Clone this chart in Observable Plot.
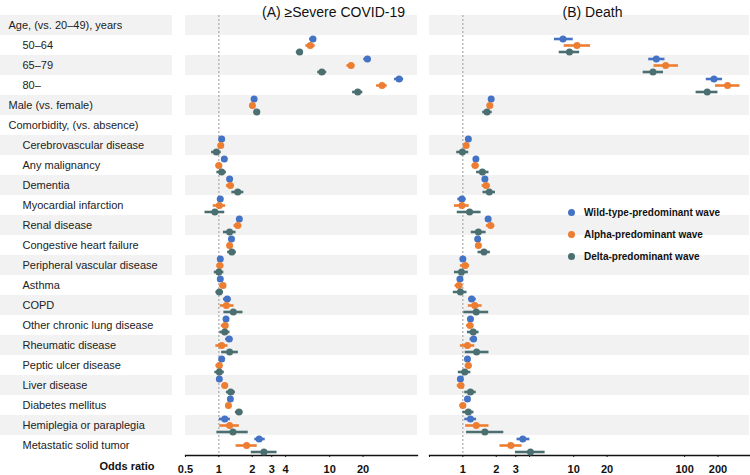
<!DOCTYPE html>
<html>
<head>
<meta charset="utf-8">
<script src="https://cdn.jsdelivr.net/npm/d3@7"></script>
<script src="https://cdn.jsdelivr.net/npm/@observablehq/plot@0.6"></script>
<style>
  body { margin: 0; background: #fff; font-family: "Liberation Sans", Arial, sans-serif; }
  #wrap { position: relative; width: 750px; height: 475px; overflow: hidden; }
  #wrap > div.p { position: absolute; top: 0; }
  #legend { position: absolute; left: 568px; top: 201px; font-size: 10px; font-weight: bold; color: #111; }
  #legend .item { height: 22px; display: flex; align-items: center; }
  #legend .sw { width: 7px; height: 7px; border-radius: 50%; margin-right: 9px; }
</style>
</head>
<body>
<div id="wrap">
  <div class="p" id="labels" style="left:0px"></div>
  <div class="p" id="left" style="left:175px"></div>
  <div class="p" id="right" style="left:419px"></div>
  <div id="legend"></div>
</div>
<script>
// ---------- data ----------
const rowLabels = [
  "Age, (vs. 20–49), years", "50–64", "65–79", "80–", "Male (vs. female)",
  "Comorbidity, (vs. absence)", "Cerebrovascular disease", "Any malignancy", "Dementia",
  "Myocardial infarction", "Renal disease", "Congestive heart failure",
  "Peripheral vascular disease", "Asthma", "COPD", "Other chronic lung disease",
  "Rheumatic disease", "Peptic ulcer disease", "Liver disease", "Diabetes mellitus",
  "Hemiplegia or paraplegia", "Metastatic solid tumor"
];
const topLevelLabels = ["Age, (vs. 20–49), years", "Male (vs. female)", "Comorbidity, (vs. absence)"];
const emptyRows = ["Age, (vs. 20–49), years", "Comorbidity, (vs. absence)"];
const seriesNames = ["Wild-type-predominant wave", "Alpha-predominant wave", "Delta-predominant wave"];
const seriesColors = ["#4472C4", "#ED7D31", "#4B6F70"];
const panelTitles = ["(A) ≥Severe COVID-19", "(B) Death"];
const leftTicks = [0.5, 1, 2, 3, 4, 10, 20];
const rightTicks = [0.5, 1, 2, 3, 4, 10, 20, 100, 200];
const refLine = [1];

// [odds ratio, lower CI, upper CI] for rows 50–64 … Metastatic solid tumor
const severeWild = [
  [7.07, 6.6, 7.6], [21.9, 20.3, 23.7], [42.3, 38.5, 46.5], [2.08, 2.04, 2.12],
  [1.06, 1.03, 1.09], [1.12, 1.09, 1.15], [1.25, 1.21, 1.29], [1.03, 0.97, 1.10],
  [1.53, 1.49, 1.57], [1.30, 1.26, 1.34], [1.03, 0.99, 1.07], [1.03, 0.99, 1.07],
  [1.19, 1.10, 1.29], [1.16, 1.12, 1.20], [1.24, 1.15, 1.34], [1.06, 1.02, 1.10],
  [1.01, 0.98, 1.04], [1.27, 1.24, 1.30], [1.13, 1.01, 1.27], [2.31, 2.11, 2.62]
];
const severeAlpha = [
  [6.68, 6.1, 7.4], [15.6, 14.3, 16.9], [29.7, 26.5, 33.0], [2.01, 1.97, 2.05],
  [1.04, 0.99, 1.11], [1.00, 0.94, 1.07], [1.27, 1.17, 1.38], [1.01, 0.89, 1.15],
  [1.48, 1.37, 1.61], [1.25, 1.21, 1.29], [1.02, 0.96, 1.11], [1.09, 1.01, 1.17],
  [1.17, 1.03, 1.37], [1.14, 1.05, 1.23], [1.06, 0.94, 1.21], [1.01, 0.94, 1.07],
  [1.13, 1.07, 1.20], [1.22, 1.16, 1.29], [1.25, 1.02, 1.53], [1.78, 1.43, 2.22]
];
const severeDelta = [
  [5.36, 5.0, 5.7], [8.5, 7.8, 9.4], [17.9, 16.1, 19.9], [2.20, 2.07, 2.35],
  [0.95, 0.86, 1.05], [1.06, 0.96, 1.17], [1.48, 1.31, 1.68], [0.92, 0.75, 1.13],
  [1.25, 1.10, 1.43], [1.31, 1.20, 1.44], [1.00, 0.91, 1.11], [1.01, 0.94, 1.10],
  [1.35, 1.11, 1.65], [1.13, 1.02, 1.26], [1.25, 1.06, 1.50], [1.01, 0.92, 1.12],
  [1.28, 1.17, 1.41], [1.52, 1.41, 1.65], [1.34, 0.96, 1.84], [2.55, 1.96, 3.35]
];
const deathWild = [
  [8.0, 6.7, 9.9], [55.6, 47.5, 66.5], [184, 157, 220], [1.80, 1.76, 1.84],
  [1.12, 1.08, 1.16], [1.31, 1.27, 1.35], [1.58, 1.53, 1.63], [0.98, 0.90, 1.07],
  [1.69, 1.64, 1.74], [1.36, 1.32, 1.40], [1.00, 0.96, 1.04], [0.94, 0.90, 0.98],
  [1.20, 1.13, 1.32], [1.17, 1.13, 1.21], [1.25, 1.16, 1.34], [1.10, 1.06, 1.14],
  [0.95, 0.91, 0.99], [1.10, 1.06, 1.14], [1.17, 1.04, 1.33], [3.47, 3.08, 4.02]
];
const deathAlpha = [
  [10.7, 8.2, 14.2], [67.5, 53, 88], [244, 190, 316], [1.75, 1.70, 1.80],
  [1.07, 1.02, 1.14], [1.29, 1.21, 1.40], [1.62, 1.49, 1.77], [0.98, 0.84, 1.14],
  [1.78, 1.63, 1.94], [1.38, 1.31, 1.45], [1.05, 0.95, 1.15], [0.92, 0.85, 1.00],
  [1.28, 1.12, 1.49], [1.16, 1.08, 1.26], [1.10, 0.95, 1.28], [1.12, 1.05, 1.21],
  [0.96, 0.89, 1.04], [1.00, 0.94, 1.07], [1.32, 1.06, 1.72], [2.71, 2.16, 3.42]
];
const deathDelta = [
  [9.15, 7.4, 11.3], [51.9, 42.3, 64.5], [160, 127, 200], [1.65, 1.51, 1.84],
  [0.99, 0.88, 1.13], [1.50, 1.33, 1.72], [1.73, 1.52, 1.97], [1.15, 0.89, 1.46],
  [1.38, 1.19, 1.62], [1.55, 1.37, 1.77], [0.97, 0.84, 1.12], [0.95, 0.82, 1.09],
  [1.32, 1.02, 1.71], [1.24, 1.10, 1.40], [1.33, 1.05, 1.72], [1.04, 0.91, 1.18],
  [1.17, 1.04, 1.32], [1.12, 1.00, 1.26], [1.58, 1.08, 2.34], [4.07, 2.98, 5.52]
];

// ---------- build ----------
const dataRows = rowLabels.filter(r => !emptyRows.includes(r));
const shadedRows = rowLabels.filter((r, i) => i % 2 === 0);
const seriesOffsets = [-6.5, 0, 6.5];
const tidy = arr => arr.map((v, j) => ({row: dataRows[j], or: v[0], lo: v[1], hi: v[2]}));

const H = 475, MT = 15, MB = 20;
const FONT = "Liberation Sans, Arial, sans-serif";
const yScale = {type: "band", domain: rowLabels, padding: 0, axis: null};
const bandFill = "#F2F2F2";

// Label column
const labelsPlot = Plot.plot({
  width: 185, height: H, marginTop: MT, marginBottom: MB, marginLeft: 0, marginRight: 13,
  style: {fontFamily: FONT, fontSize: "11px", background: "transparent"},
  y: yScale,
  marks: [
    Plot.cell(shadedRows, {y: d => d, fill: bandFill}),
    Plot.text(rowLabels.filter(r => topLevelLabels.includes(r)), {y: d => d, text: d => d, frameAnchor: "left", dx: 8, dy: -0.5, textAnchor: "start", fill: "#222", fontSize: 11}),
    Plot.text(rowLabels.filter(r => !topLevelLabels.includes(r)), {y: d => d, text: d => d, frameAnchor: "left", dx: 22, dy: -0.5, textAnchor: "start", fill: "#222", fontSize: 11}),
    Plot.text(["Odds ratio"], {frameAnchor: "bottom-right", dx: -18, dy: 14, textAnchor: "end", fontWeight: "bold", fontSize: 11, fill: "#111"})
  ]
});
document.getElementById("labels").appendChild(labelsPlot);

function panel({width, domain, ticks, title, titleDx, series}) {
  const marks = [
    Plot.cell(shadedRows, {y: d => d, fill: bandFill}),
    Plot.ruleX(refLine, {x: d => d, stroke: "#9a9a9a", strokeWidth: 1, strokeDasharray: "2,2"}),
    Plot.frame({anchor: "bottom", stroke: "#111", strokeWidth: 1.3}),
    Plot.axisX({ticks, tickFormat: d => String(d), tickSize: 2, tickPadding: 8, fontWeight: "bold", fontSize: 11, fill: "#111", stroke: "#111"}),
    Plot.text([title], {frameAnchor: "top", dy: -8, dx: titleDx, fontSize: 14, fill: "#111"})
  ];
  series.forEach((arr, i) => {
    const d = tidy(arr);
    marks.push(Plot.ruleY(d, {y: "row", x1: "lo", x2: "hi", dy: seriesOffsets[i], stroke: seriesColors[i], strokeWidth: 2.6}));
    marks.push(Plot.dot(d, {x: "or", y: "row", dy: seriesOffsets[i], r: 3.5, fill: seriesColors[i], stroke: "none"}));
  });
  return Plot.plot({
    width, height: H, marginTop: MT, marginBottom: MB, marginLeft: 10, marginRight: width === 254 ? 12 : 1,
    style: {fontFamily: FONT, fontSize: "11px", background: "transparent", overflow: "visible"},
    x: {type: "log", domain, axis: null},
    y: yScale,
    marks
  });
}

document.getElementById("left").appendChild(panel({
  width: 254, domain: [0.5, 62], ticks: leftTicks, title: panelTitles[0], titleDx: 32,
  series: [severeWild, severeAlpha, severeDelta]
}));
document.getElementById("right").appendChild(panel({
  width: 331, domain: [0.5, 385], ticks: rightTicks, title: panelTitles[1], titleDx: 3,
  series: [deathWild, deathAlpha, deathDelta]
}));

// Legend
const lg = document.getElementById("legend");
seriesNames.forEach((name, i) => {
  const item = document.createElement("div");
  item.className = "item";
  const sw = document.createElement("span");
  sw.className = "sw";
  sw.style.background = seriesColors[i];
  const t = document.createElement("span");
  t.textContent = name;
  item.appendChild(sw); item.appendChild(t);
  lg.appendChild(item);
});
</script>
</body>
</html>
